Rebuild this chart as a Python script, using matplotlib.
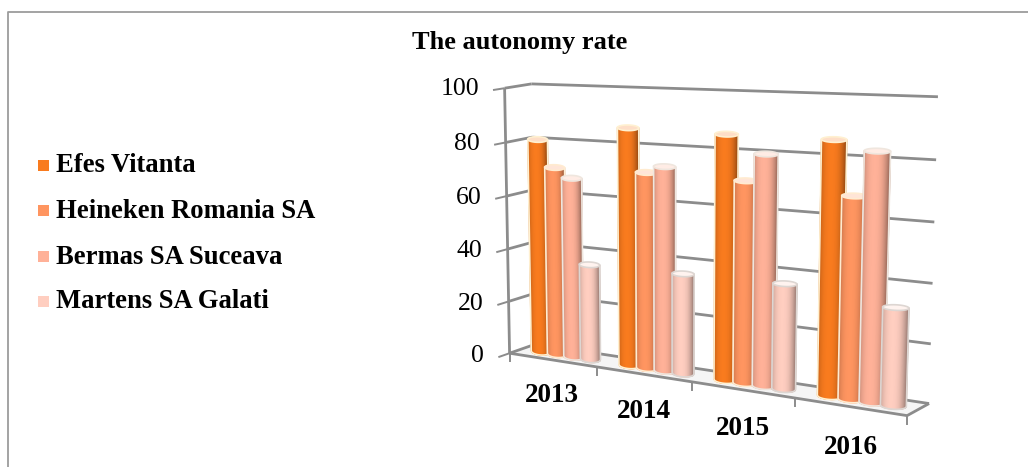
# Autonomy rate per company, drawn as a 3D-look cylinder column chart

import matplotlib
matplotlib.use("Agg")
import matplotlib.pyplot as plt
import numpy as np
from matplotlib.collections import PolyCollection
from matplotlib.patches import Polygon, Rectangle

years = ["2013", "2014", "2015", "2016"]
companies = ["Efes Vitanta", "Heineken Romania SA", "Bermas SA Suceava", "Martens SA Galati"]
efes = [80.5, 86.5, 86, 86]
heineken = [70.5, 71, 70.5, 68]
bermas = [67, 73.5, 80, 83]
martens = [35.5, 36, 36.5, 32.7]
value_ticks = [0, 20, 40, 60, 80, 100]

colors = ["#F97B1E", "#FF9560", "#FFB198", "#FFCEC0"]
rim_colors = ["#FFF0D0", "#FFEBD0", "#EFE6DE", "#DDD6D2"]
GRID = "#8C8C8C"

plt.rcParams["font.family"] = ["Liberation Serif", "DejaVu Serif"]

# camera fit: (category pos, depth, value) -> pixel
anchors = [
    (0, 0, 0, 512, 352), (0, 0, 100, 503, 87),
    (0, 1, 0, 533, 345), (0, 1, 100, 533, 85),
    (4, 1, 0, 930, 402), (4, 1, 100, 938, 97),
    (4, 1, 80, 936, 160), (4, 1, 60, 934, 222),
    (4, 1, 40, 933, 283), (4, 1, 20, 931, 343),
    (4, 0, 0, 906, 417), (1, 0, 0, 597, 367),
    (2, 0, 0, 692, 382), (3, 0, 0, 794, 399),
]


def fit_camera(points):
    rows, rhs = [], []
    for u, d, v, px, py in points:
        rows.append([u, d, v, 1, 0, 0, 0, 0, -px * u, -px * d, -px * v])
        rows.append([0, 0, 0, 0, u, d, v, 1, -py * u, -py * d, -py * v])
        rhs += [px, py]
    sol = np.linalg.lstsq(np.array(rows, float), np.array(rhs, float), rcond=None)[0]
    return np.append(sol, 1).reshape(3, 4)


CAM = fit_camera(anchors)


def project(u, d, v):
    x, y, w = CAM @ np.array([u, d, v, 1.0])
    return x / w, y / w


def wall_line(ax, start, end, lw=2.0, z=2):
    x0, y0 = project(*start)
    x1, y1 = project(*end)
    ax.plot([x0, x1], [y0, y1], color=GRID, lw=lw, zorder=z, solid_capstyle="butt")


def ring(u, v, radius, ry):
    # half width comes from the projected category axis
    x0, y0 = project(u - radius, 0.5, v)
    x1, y1 = project(u + radius, 0.5, v)
    return (x0 + x1) / 2, (y0 + y1) / 2, (x1 - x0) / 2, ry, (y1 - y0) / (x1 - x0) * 0.4


def draw_cylinder(ax, u, value, color, rim, z):
    base = np.array(matplotlib.colors.to_rgb(color))
    bx, by, brx, bry, bslope = ring(u, 0, 0.113, 3.6)
    tx, ty, trx, try_, tslope = ring(u, value, 0.113, 2.8)

    t = np.linspace(-1, 1, 33)
    quads, shades = [], []
    for a, b in zip(t[:-1], t[1:]):
        bot_a = by + bry * np.sqrt(1 - a * a) + bslope * brx * a
        bot_b = by + bry * np.sqrt(1 - b * b) + bslope * brx * b
        top_a = ty + try_ * np.sqrt(1 - a * a) + tslope * trx * a
        top_b = ty + try_ * np.sqrt(1 - b * b) + tslope * trx * b
        quads.append([(bx + brx * a, bot_a), (bx + brx * b, bot_b),
                      (tx + trx * b, top_b), (tx + trx * a, top_a)])
        # brightest slightly left of centre, darker at the sides
        mid = (a + b) / 2
        shade = 1.0 - 0.30 * abs(mid + 0.12) ** 2.4
        shades.append(np.clip(base * shade, 0, 1))
    ax.add_collection(PolyCollection(quads, facecolors=shades, edgecolors=shades,
                                     linewidths=0.8, zorder=z))

    # pale outline down both sides and around the foot
    tt = np.linspace(-1, 1, 41)
    foot_x = bx + brx * tt
    foot_y = by + bry * np.sqrt(1 - tt * tt) + bslope * brx * tt
    ax.plot(np.r_[tx - trx, foot_x, tx + trx], np.r_[ty - tslope * trx, foot_y, ty + tslope * trx],
            color=rim, lw=1.2, zorder=z + 0.1)

    # cap
    ang = np.linspace(0, 2 * np.pi, 60)
    cap_x = tx + trx * np.cos(ang)
    cap_y = ty + try_ * np.sin(ang) + tslope * trx * np.cos(ang)
    cap_fill = base * 0.25 + np.array([1, 1, 1]) * 0.75
    ax.add_patch(Polygon(np.c_[cap_x, cap_y], closed=True, facecolor=cap_fill,
                         edgecolor=rim, lw=1.2, zorder=z + 0.2))


fig = plt.figure(figsize=(10.28, 4.67), dpi=100)
ax = fig.add_axes([0, 0, 1, 1])
ax.set_xlim(0, 1028)
ax.set_ylim(467, 0)
ax.axis("off")

# outer frame, open on the right and bottom
ax.plot([7.5, 7.5, 1028], [467, 12, 12], color="#9C9C9C", lw=1.3, zorder=1)

ax.text(519.5, 43, "The autonomy rate", fontsize=19, fontweight="bold",
        ha="center", va="center")

# legend
series = [efes, heineken, bermas, martens]
legend_y = [165, 210, 256, 301]
for name, color, ly in zip(companies, colors, legend_y):
    ax.add_patch(Rectangle((38, ly - 5.5), 11, 11, facecolor=color, edgecolor="none"))
    ax.text(56, ly + 1, name, fontsize=19.2, fontweight="bold", ha="left", va="center")

# floor
n_cat = len(years)
floor = [project(0, 0, 0), project(n_cat, 0, 0), project(n_cat, 1, 0), project(0, 1, 0)]
ax.add_patch(Polygon(floor, closed=True, facecolor="#F5F5F5", edgecolor="none", zorder=1.5))

# walls and gridlines
for val in value_ticks:
    wall_line(ax, (0, 1, val), (n_cat, 1, val))
    wall_line(ax, (0, 0, val), (0, 1, val))
    wall_line(ax, (0, -0.42, val), (0, 0, val), lw=1.4)
    tx, ty = project(0, -0.42, val)
    ax.text(tx - 14, ty - 1, str(val), fontsize=18.5, ha="right", va="center")
wall_line(ax, (0, 0, 0), (0, 0, 100))
wall_line(ax, (0, 0, 0), (n_cat, 0, 0), z=2.1)
wall_line(ax, (n_cat, 0, 0), (n_cat, 1, 0), z=2.1)

# category ticks and labels under the front floor edge
for i in range(n_cat + 1):
    fx, fy = project(i, 0, 0)
    ax.plot([fx, fx], [fy, fy + 8], color=GRID, lw=1.4, zorder=2)
for i, year in enumerate(years):
    fx, fy = project(i + 0.5, 0, 0)
    ax.text(fx + 0.4 * i, fy + 36 + 1.6 * i, year, fontsize=19.5, fontweight="bold",
            ha="center", va="center")

# columns, left to right so later ones sit on top
offsets = [-0.285, -0.095, 0.095, 0.285]
z = 3.0
for i in range(n_cat):
    for j, vals in enumerate(series):
        draw_cylinder(ax, i + 0.5 + offsets[j], vals[i], colors[j], rim_colors[j], z)
        z += 0.5

fig.savefig("out.png", dpi=100, facecolor="white")
